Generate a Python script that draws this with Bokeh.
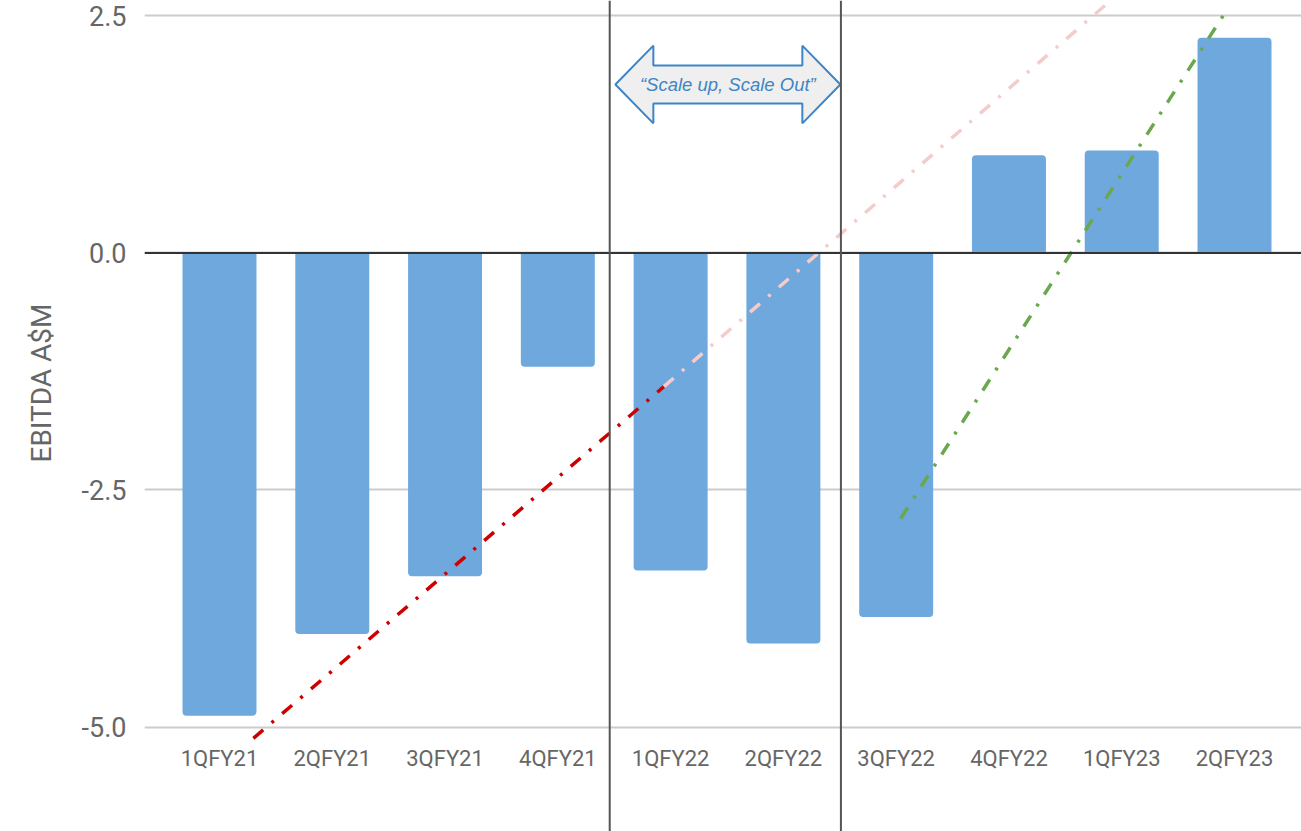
from bokeh.plotting import figure
from bokeh.models import Range1d, FixedTicker, NumeralTickFormatter, Span, Label, Title
from bokeh.embed import file_html
from bokeh.resources import INLINE

# Quarterly EBITDA (A$M)
quarters = ["1QFY21", "2QFY21", "3QFY21", "4QFY21", "1QFY22",
            "2QFY22", "3QFY22", "4QFY22", "1QFY23", "2QFY23"]
ebitda = [-4.88, -4.02, -3.41, -1.20, -3.35, -4.12, -3.84, 1.03, 1.08, 2.27]
y_ticks = [-5.0, -2.5, 0.0, 2.5]
y_title = "EBITDA A$M"

# Trend guides, x measured in quarter-index units (0 = 1QFY21)
trend_early_x = [0.30, 3.94]
trend_early_y = [-5.12, -1.41]
trend_ext_x = [3.94, 7.90]
trend_ext_y = [-1.41, 2.66]
trend_late_x = [6.04, 8.93]
trend_late_y = [-2.80, 2.56]

# Phase boundaries and their caption
phase_bounds = [3.46, 5.51]
phase_label = "\u201cScale up, Scale Out\u201d"

FONT = "Roboto"
TEXT_GREY = "#666666"
BAR_BLUE = "#6fa8dc"

p = figure(width=1301, height=831, output_backend="svg", toolbar_location=None,
           x_range=Range1d(-0.665, 9.594), y_range=Range1d(-6.102, 2.663),
           min_border_left=144, min_border_right=0, min_border_top=0,
           min_border_bottom=0)
p.outline_line_color = None
p.background_fill_color = "white"
p.border_fill_color = "white"

idx = list(range(len(quarters)))
pos_x = [i for i, v in zip(idx, ebitda) if v >= 0]
pos_v = [v for v in ebitda if v >= 0]
neg_x = [i for i, v in zip(idx, ebitda) if v < 0]
neg_v = [v for v in ebitda if v < 0]

p.vbar(x=pos_x, top=pos_v, bottom=0, width=0.656, fill_color=BAR_BLUE,
       line_color=None, border_radius=(4, 4, 0, 0))
p.vbar(x=neg_x, top=neg_v, bottom=0, width=0.656, fill_color=BAR_BLUE,
       line_color=None, border_radius=(0, 0, 4, 4))

# zero baseline and phase dividers
p.add_layout(Span(location=0, dimension="width", line_color="#333333", line_width=2))
for b in phase_bounds:
    p.add_layout(Span(location=b, dimension="height", line_color="#555555", line_width=2))

# trend guides
dash = "13 11 3 11"
p.line(trend_ext_x, trend_ext_y, line_color="#f4cccc", line_width=3.5, line_dash=dash)
p.line(trend_early_x, trend_early_y, line_color="#cc0000", line_width=3.5, line_dash=dash)
p.line(trend_late_x, trend_late_y, line_color="#6aa84f", line_width=3.5, line_dash=dash)

# double-headed block arrow between the phase dividers
x0 = phase_bounds[0] + 0.05
x1 = phase_bounds[1] - 0.005
yc, head_len, head_half, shaft_half = 1.777, 0.337, 0.41, 0.20
ax = [x0, x0 + head_len, x0 + head_len, x1 - head_len, x1 - head_len, x1,
      x1 - head_len, x1 - head_len, x0 + head_len, x0 + head_len]
ay = [yc, yc + head_half, yc + shaft_half, yc + shaft_half, yc + head_half, yc,
      yc - head_half, yc - shaft_half, yc - shaft_half, yc - head_half]
p.patch(ax, ay, fill_color="#efefef", line_color="#3d85c6", line_width=2)
p.add_layout(Label(x=(x0 + x1) / 2, y=yc, text=phase_label, text_align="center",
                   text_baseline="middle", text_font="Liberation Sans",
                   text_font_style="italic", text_font_size="18.5px",
                   text_color="#3d85c6"))

# axes
p.xgrid.visible = False
p.ygrid.grid_line_color = "#cccccc"
p.ygrid.grid_line_width = 2

xa = p.xaxis[0]
xa.fixed_location = -5.0
xa.ticker = FixedTicker(ticks=idx)
xa.major_label_overrides = {i: q for i, q in zip(idx, quarters)}
xa.axis_line_color = None
xa.major_tick_line_color = None
xa.minor_tick_line_color = None
xa.major_label_text_font = FONT
xa.major_label_text_font_size = "22px"
xa.major_label_text_color = TEXT_GREY
xa.major_label_standoff = 13

ya = p.yaxis[0]
ya.ticker = FixedTicker(ticks=y_ticks)
ya.formatter = NumeralTickFormatter(format="0.0")
ya.axis_line_color = None
ya.major_tick_line_color = None
ya.minor_tick_line_color = None
ya.major_label_text_font = FONT
ya.major_label_text_font_size = "27px"
ya.major_label_text_color = TEXT_GREY
ya.major_label_standoff = 12

# vertical axis title in the left margin, sitting a little above centre
p.add_layout(Title(text=y_title, align="left", offset=369, standoff=42,
                   text_font=FONT, text_font_size="28px",
                   text_font_style="normal", text_color=TEXT_GREY), "left")

open("out.html", "w").write(file_html(p, INLINE))
